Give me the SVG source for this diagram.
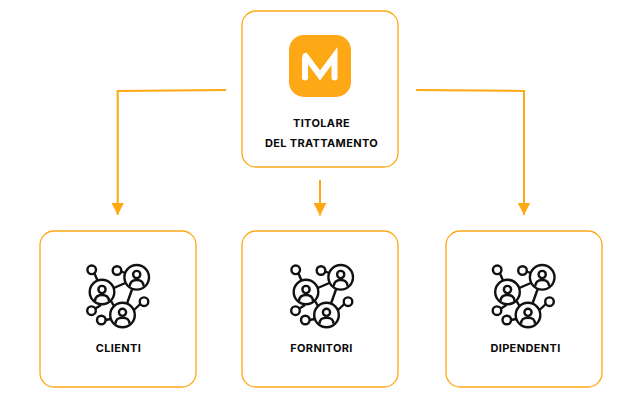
<svg xmlns="http://www.w3.org/2000/svg" width="640" height="400" viewBox="0 0 640 400">
<style>
.box{fill:#fff;stroke:#FFA816;stroke-width:1.3}
.lab{font-family:Inter,"Liberation Sans",sans-serif;font-size:11px;font-weight:700;fill:#0a0a0a;text-anchor:middle;letter-spacing:.35px}
.conn{fill:none;stroke:#FFA816;stroke-width:2}
.ic{fill:none;stroke:#111;stroke-width:2.4}
.m{fill:none;stroke:#fff;stroke-width:6;stroke-linecap:round}
</style>
<defs>
<marker id="ah" markerUnits="userSpaceOnUse" markerWidth="13" markerHeight="13" refX="12.500" refY="6.500" orient="auto"><path d="M0 0L12.500 6.500L0 13Z" fill="#FFA816"/></marker>
<g id="net" class="ic">
<circle cx="91.700" cy="269.800" r="4.300"/><circle cx="117" cy="270.500" r="4.300"/><circle cx="144" cy="301.700" r="4.300"/><circle cx="91.500" cy="310.700" r="4.300"/><circle cx="101.300" cy="320" r="4.300"/>
<circle cx="136.700" cy="277.300" r="12.300"/><circle cx="102" cy="292" r="12.300"/><circle cx="122.500" cy="315" r="12.300"/>
<path d="M94.500 273.500L97.500 280.500M121.300 271.500L125 273M113.800 288L125.300 283M110.800 300.700L114 306M132 289.500L127 303.500M134 310L140.300 304M95.500 308.500L101 305M105.600 320L110.500 319"/>
<circle cx="136.700" cy="274.500" r="3.600"/><path d="M129.700 286.500C130 281 133 280 136.700 280S143.400 281 143.700 286.500"/>
<circle cx="102" cy="289.500" r="3.600"/><path d="M95 301C95.300 295.800 98.300 295 102 295S108.700 295.800 109 301"/>
<circle cx="122.500" cy="312.300" r="3.600"/><path d="M115.500 323.800C115.800 318.500 118.800 317.700 122.500 317.700S129.200 318.500 129.500 323.800"/>
</g>
</defs>
<g id="connectors">
<path class="conn" d="M226 90L117.700 91V215" marker-end="url(#ah)"/>
<path class="conn" d="M320 180V215.500" marker-end="url(#ah)"/>
<path class="conn" d="M416 90L524 91V215" marker-end="url(#ah)"/>
</g>
<g id="titolare">
<rect class="box" x="242" y="11" width="156" height="156" rx="14"/>
<rect x="289" y="35" width="62" height="62" rx="15" fill="#FFA816"/>
<path class="m" d="M305.500 56L320 75.500L334.500 56V77.500"/>
<path class="m" d="M305 59V77.500"/>
<text class="lab" x="321.500" y="127">TITOLARE</text>
<text class="lab" x="321.500" y="147">DEL TRATTAMENTO</text>
</g>
<g id="clienti">
<rect class="box" x="40" y="231" width="156" height="156" rx="14"/>
<use href="#net"/>
<text class="lab" x="118.500" y="352">CLIENTI</text>
</g>
<g id="fornitori">
<rect class="box" x="242" y="231" width="156" height="156" rx="14"/>
<use href="#net" x="204"/>
<text class="lab" x="321.500" y="352">FORNITORI</text>
</g>
<g id="dipendenti">
<rect class="box" x="446" y="231" width="156" height="156" rx="14"/>
<use href="#net" x="405.500"/>
<text class="lab" x="525.500" y="352">DIPENDENTI</text>
</g>
</svg>
